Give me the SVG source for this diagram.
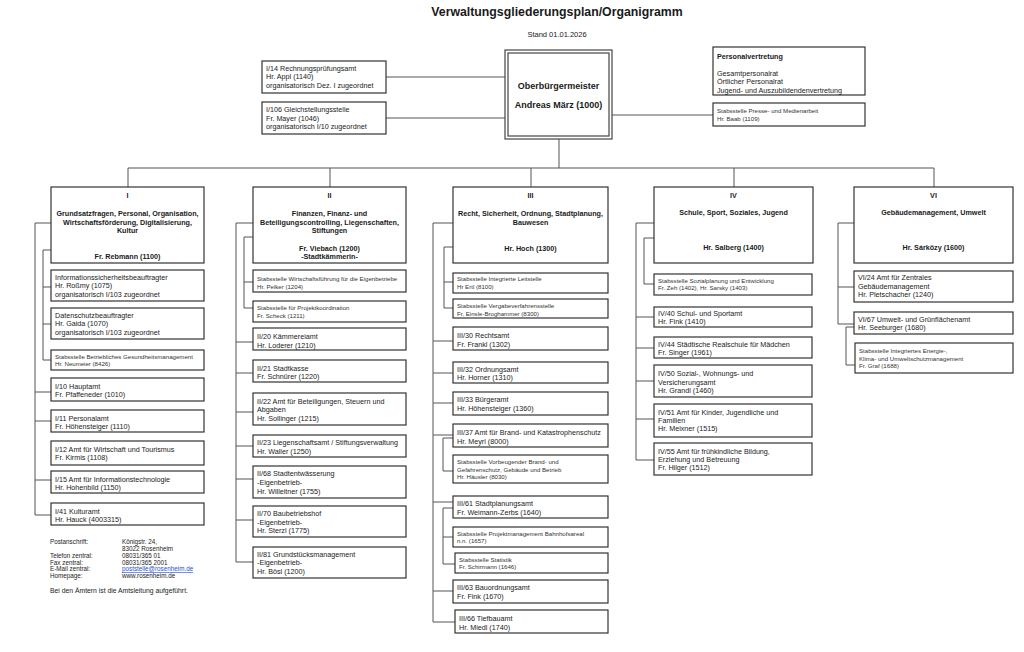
<svg xmlns="http://www.w3.org/2000/svg" width="1024" height="652" viewBox="0 0 1024 652">
<style>
.bg{fill:#fff}
.b{fill:#fff;stroke:#333;stroke-width:1.2}
.ob{fill:#fff;stroke:#444;stroke-width:1.2}
.c{fill:none;stroke:#555;stroke-width:1}
text{font-family:"Liberation Sans",Arial,sans-serif;fill:#1a1a1a}
.t{font-size:7.2px}
.h{font-size:7.2px;font-weight:bold;text-anchor:middle}
.s{font-size:6.1px;fill:#333}
.a{font-size:6.3px;fill:#222}
.note{font-size:6.8px;fill:#222}
.title{font-size:12.3px;font-weight:bold;text-anchor:middle}
.stand{font-size:7.5px;text-anchor:middle}
.obt{font-size:9px;font-weight:bold;text-anchor:middle}
.pv{font-size:7.2px;font-weight:bold}
.link{fill:#1a4fd6;text-decoration:underline}
</style>
<rect class="bg" x="0" y="0" width="1024" height="652"/>
<g id="title">
<text class="title" x="557" y="16">Verwaltungsgliederungsplan/Organigramm</text>
<text class="stand" x="557" y="37">Stand 01.01.2026</text>
</g>

<g id="connectors">
<path class="c" d="M386,77H505M386,118H505M612,115H713"/>
<path class="c" d="M559,139V168M128,168H934M128,168V187M330,168V187M531,168V187M734,168V187M934,168V187"/>
<path class="c" d="M35,223V515M35,223H51M35,392H51M35,421H51M35,480H51M35,515H51"/>
<path class="c" d="M43,250V360M43,250H51M43,287H51M43,324H51M43,360H51"/>
<path class="c" d="M236,223V562M236,223H253M236,342H253M236,373H253M236,412H253M236,446H253M236,479H253M236,520H253M236,562H253"/>
<path class="c" d="M244,237V308M244,237H253M244,282H253M244,308H253"/>
<path class="c" d="M433,223V622M433,223H453M433,341H453M433,373H453M433,403H453M433,435H453M433,502H453M433,591H453M433,622H455"/>
<path class="c" d="M444,247V308M444,247H453M444,282H453M444,308H453"/>
<path class="c" d="M443,438V471M443,438H453M443,471H453"/>
<path class="c" d="M443,508V564M443,508H453M443,537H453M443,564H455"/>
<path class="c" d="M636,223V460M636,223H654M636,317H654M636,348H654M636,381H654M636,419H654M636,460H654"/>
<path class="c" d="M644,238V284M644,238H654M644,284H654"/>
<path class="c" d="M838,223V324M838,223H854M838,287H854M838,324H854"/>
<path class="c" d="M846,327V365M846,327H854M846,365H855"/>
</g>

<g id="ob">
<rect class="ob" x="505" y="50" width="107" height="89"/>
<rect class="ob" x="508" y="53" width="101" height="83"/>
<text class="obt" x="558.5" y="88.5">Oberbürgermeister</text>
<text class="obt" x="558.5" y="108">Andreas März (1000)</text>
</g>
<g id="i14">
<rect class="b" x="262" y="61" width="124" height="32"/>
<text class="t" x="266" y="70.5">I/14 Rechnungsprüfungsamt</text>
<text class="t" x="266" y="79">Hr. Appl (1140)</text>
<text class="t" x="266" y="87.5">organisatorisch Dez. I zugeordnet</text>
</g>
<g id="i106">
<rect class="b" x="262" y="102" width="124" height="32"/>
<text class="t" x="266" y="112">I/106 Gleichstellungsstelle</text>
<text class="t" x="266" y="120.5">Fr. Mayer (1046)</text>
<text class="t" x="266" y="129">organisatorisch I/10 zugeordnet</text>
</g>
<g id="personalvertretung">
<rect class="b" x="713" y="47" width="152" height="48"/>
<text class="pv" x="717" y="58.5">Personalvertretung</text>
<text class="t" x="717" y="75.5">Gesamtpersonalrat</text>
<text class="t" x="717" y="84">Örtlicher Personalrat</text>
<text class="t" x="717" y="92.5">Jugend- und Auszubildendenvertretung</text>
</g>
<g id="presse">
<rect class="b" x="713" y="103" width="152" height="23"/>
<text class="s" x="717" y="113">Stabsstelle Presse- und Medienarbeit</text>
<text class="s" x="717" y="120.5">Hr. Baab (1109)</text>
</g>

<g id="dez1">
<rect class="b" x="51" y="187" width="153" height="76"/>
<text class="h" x="127.5" y="197.5">I</text>
<text class="h" x="127.5" y="215.5">Grundsatzfragen, Personal, Organisation,</text>
<text class="h" x="127.5" y="224.5">Wirtschaftsförderung, Digitalisierung,</text>
<text class="h" x="127.5" y="233">Kultur</text>
<text class="h" x="127.5" y="258.5">Fr. Rebmann (1100)</text>
</g>
<g id="infosec">
<rect class="b" x="51" y="270" width="153" height="31"/>
<text class="t" x="55" y="279.5">Informationssicherheitsbeauftragter</text>
<text class="t" x="55" y="288">Hr. Roßmy (1075)</text>
<text class="t" x="55" y="296.5">organisatorisch I/103 zugeordnet</text>
</g>
<g id="datenschutz">
<rect class="b" x="51" y="308" width="153" height="31"/>
<text class="t" x="55" y="317.5">Datenschutzbeauftragter</text>
<text class="t" x="55" y="326">Hr. Gaida (1070)</text>
<text class="t" x="55" y="334.5">organisatorisch I/103 zugeordnet</text>
</g>
<g id="bgm">
<rect class="b" x="51" y="350" width="153" height="20"/>
<text class="s" x="55" y="358.5">Stabsstelle Betriebliches Gesundheitsmanagement</text>
<text class="s" x="55" y="365.5">Hr. Neumeier (8426)</text>
</g>
<g id="i10">
<rect class="b" x="51" y="378" width="153" height="23"/>
<text class="t" x="55" y="388.5">I/10 Hauptamt</text>
<text class="t" x="55" y="396.5">Fr. Pfaffeneder (1010)</text>
</g>
<g id="i11">
<rect class="b" x="51" y="410" width="153" height="22"/>
<text class="t" x="55" y="420.5">I/11 Personalamt</text>
<text class="t" x="55" y="429">Fr. Höhensteiger (1110)</text>
</g>
<g id="i12">
<rect class="b" x="51" y="441" width="153" height="24"/>
<text class="t" x="55" y="451.5">I/12 Amt für Wirtschaft und Tourismus</text>
<text class="t" x="55" y="460">Fr. Kirmis (1108)</text>
</g>
<g id="i15">
<rect class="b" x="51" y="471" width="153" height="22"/>
<text class="t" x="55" y="481.5">I/15 Amt für Informationstechnologie</text>
<text class="t" x="55" y="490">Hr. Hohenbild (1150)</text>
</g>
<g id="i41">
<rect class="b" x="51" y="503" width="153" height="22"/>
<text class="t" x="55" y="513.5">I/41 Kulturamt</text>
<text class="t" x="55" y="522">Hr. Hauck (4003315)</text>
</g>
<g id="address">
<text class="a" x="50" y="544">Postanschrift:</text>
<text class="a" x="122" y="544">Königstr. 24,</text>
<text class="a" x="122" y="551">83022 Rosenheim</text>
<text class="a" x="50" y="558">Telefon zentral:</text>
<text class="a" x="122" y="558">08031/365 01</text>
<text class="a" x="50" y="564.5">Fax zentral:</text>
<text class="a" x="122" y="564.5">08031/365 2001</text>
<text class="a" x="50" y="571">E-Mail zentral:</text>
<text class="a link" x="122" y="571">poststelle@rosenheim.de</text>
<text class="a" x="50" y="577.5">Homepage:</text>
<text class="a" x="122" y="577.5">www.rosenheim.de</text>
<text class="note" x="50" y="593">Bei den Ämtern ist die Amtsleitung aufgeführt.</text>
</g>

<g id="dez2">
<rect class="b" x="253" y="187" width="153" height="76"/>
<text class="h" x="329.5" y="197.5">II</text>
<text class="h" x="329.5" y="215.5">Finanzen, Finanz- und</text>
<text class="h" x="329.5" y="224.5">Beteiligungscontrolling, Liegenschaften,</text>
<text class="h" x="329.5" y="233">Stiftungen</text>
<text class="h" x="329.5" y="250.5">Fr. Viebach (1200)</text>
<text class="h" x="329.5" y="258.5">-Stadtkämmerin-</text>
</g>
<g id="wifue">
<rect class="b" x="253" y="270" width="153" height="22"/>
<text class="s" x="257" y="281">Stabsstelle Wirtschaftsführung für die Eigenbetriebe</text>
<text class="s" x="257" y="289">Hr. Pelker (1204)</text>
</g>
<g id="projkoord">
<rect class="b" x="253" y="301" width="153" height="21"/>
<text class="s" x="257" y="310">Stabsstelle für Projektkoordination</text>
<text class="s" x="257" y="318">Fr. Scheck (1211)</text>
</g>
<g id="ii20">
<rect class="b" x="253" y="328" width="153" height="22"/>
<text class="t" x="257" y="339">II/20 Kämmereiamt</text>
<text class="t" x="257" y="347.5">Hr. Loderer (1210)</text>
</g>
<g id="ii21">
<rect class="b" x="253" y="360" width="153" height="22"/>
<text class="t" x="257" y="370.5">II/21 Stadtkasse</text>
<text class="t" x="257" y="379">Fr. Schnürer (1220)</text>
</g>
<g id="ii22">
<rect class="b" x="253" y="393" width="153" height="32"/>
<text class="t" x="257" y="403.5">II/22 Amt für Beteiligungen, Steuern und</text>
<text class="t" x="257" y="411.5">Abgaben</text>
<text class="t" x="257" y="420.5">Hr. Sollinger (1215)</text>
</g>
<g id="ii23">
<rect class="b" x="253" y="435" width="153" height="22"/>
<text class="t" x="257" y="444.5">II/23 Liegenschaftsamt / Stiftungsverwaltung</text>
<text class="t" x="257" y="453.5">Hr. Waller (1250)</text>
</g>
<g id="ii68">
<rect class="b" x="253" y="466" width="153" height="32"/>
<text class="t" x="257" y="475.5">II/68 Stadtentwässerung</text>
<text class="t" x="257" y="484.5">-Eigenbetrieb-</text>
<text class="t" x="257" y="493.5">Hr. Willeitner (1755)</text>
</g>
<g id="ii70">
<rect class="b" x="253" y="506" width="153" height="31"/>
<text class="t" x="257" y="516">II/70 Baubetriebshof</text>
<text class="t" x="257" y="524.5">-Eigenbetrieb-</text>
<text class="t" x="257" y="533">Hr. Sterzl (1775)</text>
</g>
<g id="ii81">
<rect class="b" x="253" y="547" width="153" height="31"/>
<text class="t" x="257" y="556.5">II/81 Grundstücksmanagement</text>
<text class="t" x="257" y="564.5">-Eigenbetrieb-</text>
<text class="t" x="257" y="573.5">Hr. Bösl (1200)</text>
</g>

<g id="dez3">
<rect class="b" x="453" y="187" width="155" height="76"/>
<text class="h" x="530.5" y="197.5">III</text>
<text class="h" x="530.5" y="215.5">Recht, Sicherheit, Ordnung, Stadtplanung,</text>
<text class="h" x="530.5" y="224.5">Bauwesen</text>
<text class="h" x="530.5" y="250.5">Hr. Hoch (1300)</text>
</g>
<g id="leitstelle">
<rect class="b" x="453" y="273" width="155" height="20"/>
<text class="s" x="457" y="281">Stabsstelle Integrierte Leitstelle</text>
<text class="s" x="457" y="289">Hr Ertl (8100)</text>
</g>
<g id="vergabe">
<rect class="b" x="453" y="299" width="155" height="19"/>
<text class="s" x="457" y="307.5">Stabsstelle Vergabeverfahrensstelle</text>
<text class="s" x="457" y="315.5">Fr. Einsle-Broghammer (8300)</text>
</g>
<g id="iii30">
<rect class="b" x="453" y="327" width="155" height="23"/>
<text class="t" x="457" y="338">III/30 Rechtsamt</text>
<text class="t" x="457" y="346.5">Fr. Frankl (1302)</text>
</g>
<g id="iii32">
<rect class="b" x="453" y="362" width="155" height="21"/>
<text class="t" x="457" y="371.5">III/32 Ordnungsamt</text>
<text class="t" x="457" y="380">Hr. Horner (1310)</text>
</g>
<g id="iii33">
<rect class="b" x="453" y="392" width="155" height="23"/>
<text class="t" x="457" y="401.5">III/33 Bürgeramt</text>
<text class="t" x="457" y="410.5">Hr. Höhensteiger (1360)</text>
</g>
<g id="iii37">
<rect class="b" x="453" y="424" width="155" height="23"/>
<text class="t" x="457" y="435">III/37 Amt für Brand- und Katastrophenschutz</text>
<text class="t" x="457" y="444">Hr. Meyrl (8000)</text>
</g>
<g id="vorbeugend">
<rect class="b" x="453" y="455" width="155" height="28"/>
<text class="s" x="457" y="464">Stabsstelle Vorbeugender Brand- und</text>
<text class="s" x="457" y="471.5">Gefahrenschutz, Gebäude und Betrieb</text>
<text class="s" x="457" y="479">Hr. Häusler (8030)</text>
</g>
<g id="iii61">
<rect class="b" x="453" y="496" width="155" height="22"/>
<text class="t" x="457" y="505.5">III/61 Stadtplanungsamt</text>
<text class="t" x="457" y="514.5">Fr. Weimann-Zerbs (1640)</text>
</g>
<g id="bahnhof">
<rect class="b" x="453" y="527" width="155" height="20"/>
<text class="s" x="457" y="535.5">Stabsstelle Projektmanagement Bahnhofsareal</text>
<text class="s" x="457" y="543">n.n. (1657)</text>
</g>
<g id="statistik">
<rect class="b" x="455" y="553" width="153" height="20"/>
<text class="s" x="459" y="561.5">Stabsstelle Statistik</text>
<text class="s" x="459" y="569">Fr. Schirmann (1646)</text>
</g>
<g id="iii63">
<rect class="b" x="453" y="580" width="155" height="23"/>
<text class="t" x="457" y="589.5">III/63 Bauordnungsamt</text>
<text class="t" x="457" y="598.5">Fr. Fink (1670)</text>
</g>
<g id="iii66">
<rect class="b" x="455" y="610" width="153" height="23"/>
<text class="t" x="459" y="620.5">III/66 Tiefbauamt</text>
<text class="t" x="459" y="629.5">Hr. Miedl (1740)</text>
</g>

<g id="dez4">
<rect class="b" x="654" y="187" width="159" height="76"/>
<text class="h" x="733.5" y="197.5">IV</text>
<text class="h" x="733.5" y="214.5">Schule, Sport, Soziales, Jugend</text>
<text class="h" x="733.5" y="249.5">Hr. Salberg (1400)</text>
</g>
<g id="sozialplanung">
<rect class="b" x="654" y="274" width="158" height="21"/>
<text class="s" x="658" y="282.5">Stabsstelle Sozialplanung und Entwicklung</text>
<text class="s" x="658" y="290">Fr. Zeh (1402), Hr. Sarsky (1403)</text>
</g>
<g id="iv40">
<rect class="b" x="654" y="307" width="158" height="20"/>
<text class="t" x="658" y="315.5">IV/40 Schul- und Sportamt</text>
<text class="t" x="658" y="324">Hr. Fink (1410)</text>
</g>
<g id="iv44">
<rect class="b" x="654" y="337" width="158" height="21"/>
<text class="t" x="658" y="346.5">IV/44 Städtische Realschule für Mädchen</text>
<text class="t" x="658" y="355">Fr. Singer (1961)</text>
</g>
<g id="iv50">
<rect class="b" x="654" y="365" width="158" height="32"/>
<text class="t" x="658" y="375.5">IV/50 Sozial-, Wohnungs- und</text>
<text class="t" x="658" y="384.5">Versicherungsamt</text>
<text class="t" x="658" y="393">Hr. Grandl (1460)</text>
</g>
<g id="iv51">
<rect class="b" x="654" y="404" width="158" height="33"/>
<text class="t" x="658" y="414.5">IV/51 Amt für Kinder, Jugendliche und</text>
<text class="t" x="658" y="422.5">Familien</text>
<text class="t" x="658" y="431">Hr. Meixner (1515)</text>
</g>
<g id="iv55">
<rect class="b" x="654" y="443" width="158" height="32"/>
<text class="t" x="658" y="453.5">IV/55 Amt für frühkindliche Bildung,</text>
<text class="t" x="658" y="461.5">Erziehung und Betreuung</text>
<text class="t" x="658" y="470">Fr. Hilger (1512)</text>
</g>

<g id="dez6">
<rect class="b" x="854" y="187" width="159" height="76"/>
<text class="h" x="933.5" y="197.5">VI</text>
<text class="h" x="933.5" y="214.5">Gebäudemanagement, Umwelt</text>
<text class="h" x="933.5" y="249.5">Hr. Sárközy (1600)</text>
</g>
<g id="vi24">
<rect class="b" x="854" y="271" width="159" height="31"/>
<text class="t" x="858" y="280">VI/24 Amt für Zentrales</text>
<text class="t" x="858" y="288.5">Gebäudemanagement</text>
<text class="t" x="858" y="297">Hr. Pletschacher (1240)</text>
</g>
<g id="vi67">
<rect class="b" x="854" y="312" width="159" height="22"/>
<text class="t" x="858" y="321.5">VI/67 Umwelt- und Grünflächenamt</text>
<text class="t" x="858" y="330">Hr. Seeburger (1680)</text>
</g>
<g id="klima">
<rect class="b" x="855" y="343" width="158" height="30"/>
<text class="s" x="859" y="353">Stabsstelle Integriertes Energie-,</text>
<text class="s" x="859" y="360.5">Klima- und Umweltschutzmanagement</text>
<text class="s" x="859" y="368">Fr. Graf (1688)</text>
</g>
</svg>
